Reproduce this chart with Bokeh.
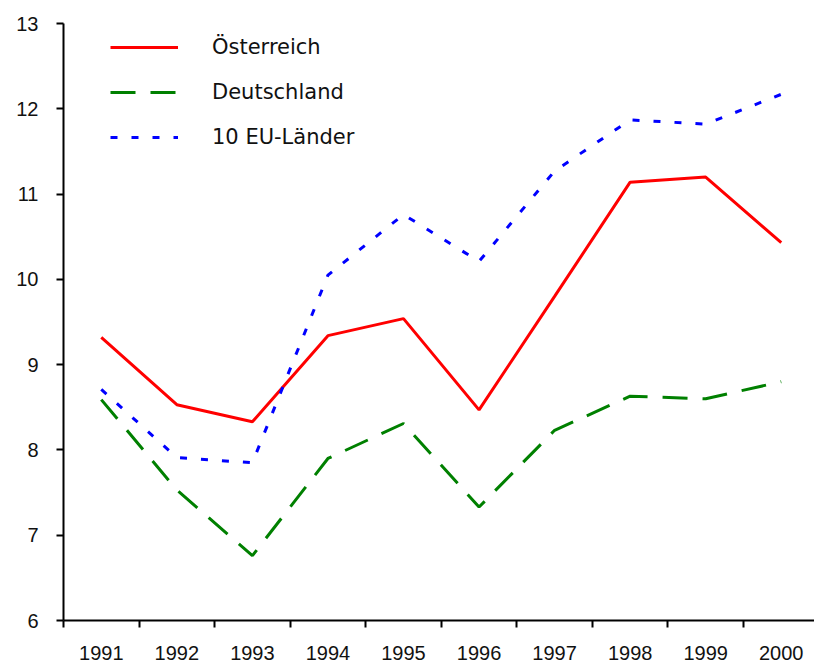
from bokeh.plotting import figure
from bokeh.models import FixedTicker, Range1d, Legend, LegendItem
from bokeh.embed import file_html
from bokeh.resources import INLINE

years = ["1991", "1992", "1993", "1994", "1995", "1996", "1997", "1998", "1999", "2000"]
xpos = [1, 2, 3, 4, 5, 6, 7, 8, 9, 10]
oesterreich = [9.32, 8.53, 8.33, 9.34, 9.54, 8.47, 9.80, 11.14, 11.20, 10.43]
deutschland = [8.59, 7.53, 6.76, 7.90, 8.31, 7.33, 8.23, 8.63, 8.60, 8.80]
eu10 = [8.71, 7.91, 7.85, 10.05, 10.76, 10.21, 11.27, 11.87, 11.82, 12.17]
y_ticks = [6, 7, 8, 9, 10, 11, 12, 13]

p = figure(width=814, height=668, output_backend="svg", toolbar_location=None,
           x_range=Range1d(0.5, 10.44), y_range=Range1d(6, 13),
           min_border_left=63, min_border_top=23, min_border_bottom=48, min_border_right=0)
p.outline_line_color = None
p.grid.grid_line_color = None

r1 = p.line(xpos, oesterreich, line_color="#FF0000", line_width=3)
r2 = p.line(xpos, deutschland, line_color="#008000", line_width=3, line_dash="25 15")
r3 = p.line(xpos, eu10, line_color="#0000FF", line_width=3, line_dash="7 14")

bounds = [x - 0.5 for x in xpos] + [10.5]
p.xaxis.ticker = FixedTicker(ticks=xpos, minor_ticks=bounds)
p.xaxis.major_label_overrides = {x: y for x, y in zip(xpos, years)}
p.xaxis.major_tick_line_color = None
p.xaxis.minor_tick_line_color = "black"
p.xaxis.minor_tick_line_width = 2
p.xaxis.minor_tick_out = 7
p.xaxis.minor_tick_in = 0
p.xaxis.major_label_standoff = 18

p.yaxis.ticker = FixedTicker(ticks=y_ticks)
p.yaxis.minor_tick_line_color = None
p.yaxis.major_tick_out = 7
p.yaxis.major_tick_in = 0
p.yaxis.major_tick_line_width = 2
p.yaxis.major_label_standoff = 18

for ax in (p.xaxis, p.yaxis):
    ax.axis_line_width = 2
    ax.axis_line_color = "black"
    ax.major_label_text_font = "Liberation Sans"
    ax.major_label_text_font_size = "20px"
    ax.major_label_text_color = "#111111"

legend = Legend(items=[LegendItem(label="Österreich", renderers=[r1]),
                       LegendItem(label="Deutschland", renderers=[r2]),
                       LegendItem(label="10 EU-Länder", renderers=[r3])],
                location=(47, 470), glyph_width=68, glyph_height=26, label_height=26,
                label_standoff=34, spacing=19, padding=0, margin=0,
                border_line_color=None, background_fill_alpha=0,
                label_text_font="DejaVu Sans", label_text_font_size="21px",
                label_text_color="#111111")
p.add_layout(legend, "center")

open("out.html", "w").write(file_html(p, INLINE))
